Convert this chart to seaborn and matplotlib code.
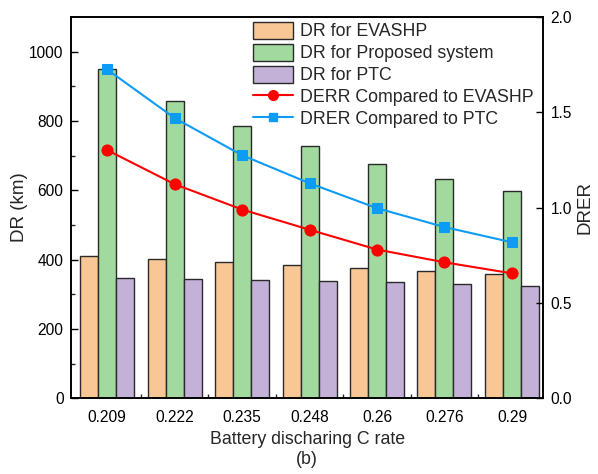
import numpy as np
import pandas as pd
import matplotlib
matplotlib.use("Agg")
import matplotlib.pyplot as plt
import seaborn as sns
from matplotlib.patches import Patch
from matplotlib.lines import Line2D

categories = ["0.209", "0.222", "0.235", "0.248", "0.26", "0.276", "0.29"]
dr_evashp = [410, 401, 392, 384, 376, 366, 358]
dr_proposed = [950, 859, 786, 728, 675, 633, 598]
dr_ptc = [346, 345, 342, 339, 335, 330, 325]
derr = [1.302, 1.123, 0.990, 0.884, 0.780, 0.713, 0.655]
drer = [1.725, 1.470, 1.275, 1.128, 0.997, 0.898, 0.818]

series_names = ["DR for EVASHP", "DR for Proposed system", "DR for PTC"]
bar_colors = ["#F9C795", "#A1D99E", "#C3B1D7"]
red = "#FF0000"
blue = "#0C9BF5"

sns.set_theme(style="white")
plt.rcParams["font.family"] = ["Liberation Sans", "DejaVu Sans"]

df = pd.DataFrame({
    "C rate": categories * 3,
    "DR": dr_evashp + dr_proposed + dr_ptc,
    "Series": sum([[s] * len(categories) for s in series_names], []),
})

fig = plt.figure(figsize=(5.98, 4.74), dpi=100)
ax = fig.add_axes([0.119, 0.160, 0.789, 0.804])

sns.barplot(data=df, x="C rate", y="DR", hue="Series", hue_order=series_names,
            order=categories, palette=bar_colors, width=0.8, edgecolor="#2a2a2a",
            linewidth=1.0, saturation=1, ax=ax, legend=False)

ax.set_xlim(-0.533, 6.46)
ax.set_ylim(0, 1100)
ax.set_yticks([0, 200, 400, 600, 800, 1000])
ax.set_yticks(np.arange(100, 1100, 200), minor=True)
ax.set_xticks(np.arange(0.5, 6.5, 1.0), minor=True)
ax.set_ylabel("DR (km)", fontsize=13.5, labelpad=1)
ax.set_xlabel("Battery discharing C rate\n(b)", fontsize=12.8, linespacing=1.3)

ax2 = ax.twinx()
x = np.arange(len(categories))
sns.lineplot(x=x, y=derr, ax=ax2, color=red, marker="o", markersize=8,
             markeredgecolor=red, linewidth=1.5)
sns.lineplot(x=x, y=drer, ax=ax2, color=blue, marker="s", markersize=7,
             markeredgecolor=blue, linewidth=1.5)
ax2.set_ylim(0, 2.0)
ax2.set_yticks([0, 0.5, 1.0, 1.5, 2.0])
ax2.set_yticklabels(["0.0", "0.5", "1.0", "1.5", "2.0"])
ax2.set_ylabel("DRER", fontsize=13.5, labelpad=3)
ax2.set_xlim(-0.533, 6.46)

for a in (ax, ax2):
    for s in a.spines.values():
        s.set_color("black")
        s.set_linewidth(1.2)
    a.tick_params(direction="in", length=5, width=1.0, labelsize=11.2, colors="black", pad=5.5)
    a.tick_params(which="minor", direction="in", length=3, width=1.0)
ax.tick_params(axis="x", pad=8.5)
ax.tick_params(axis="y", which="both", right=False, left=True)
ax.tick_params(axis="x", which="both", bottom=True, top=False)
ax2.tick_params(axis="y", which="both", right=True, left=False)

handles = [Patch(facecolor=c, edgecolor="#2a2a2a", linewidth=1.0) for c in bar_colors]
handles += [Line2D([], [], color=red, marker="o", markersize=7, linewidth=1.5),
            Line2D([], [], color=blue, marker="s", markersize=6, linewidth=1.5)]
labels = series_names + ["DERR Compared to EVASHP", "DRER Compared to PTC"]
ax2.legend(handles, labels, loc="upper right", bbox_to_anchor=(1.0, 1.013),
           frameon=False, fontsize=12.8, handlelength=2.25, handleheight=1.07,
           labelspacing=0.2, handletextpad=0.35, borderaxespad=0.15)

fig.savefig("out.png", dpi=100)
